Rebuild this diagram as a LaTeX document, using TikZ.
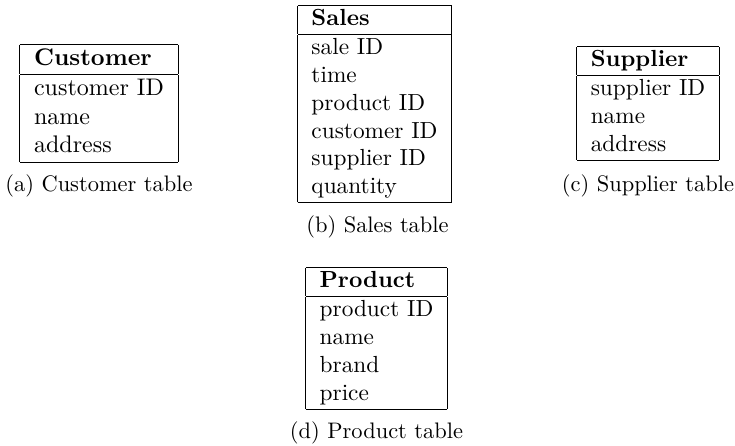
\documentclass[tikz,border=0pt]{standalone}
\begin{document}
\begin{tikzpicture}[x=0.4292pt,y=-0.4292pt,
  tbl/.style={inner sep=0pt,outer sep=0pt},
  captext/.style={inner sep=0pt,anchor=center,font=\fontsize{9.63pt}{11.5pt}\selectfont}]
\useasboundingbox (0,0) rectangle (735,445);
\node[tbl,scale=1.03,transform shape] (customer) at (99,103.5) {\begin{tabular}{|l|}\hline\textbf{Customer}\\\hline customer ID\\ name\\ address\\\hline\end{tabular}};
\node[tbl] (sales) at (374.5,104) {\begin{tabular}{|l|}\hline\textbf{Sales}\\\hline sale ID\\ time\\ product ID\\ customer ID\\ supplier ID\\ quantity\\\hline\end{tabular}};
\node[tbl] (supplier) at (648,103.5) {\begin{tabular}{|l|}\hline\textbf{Supplier}\\\hline supplier ID\\ name\\ address\\\hline\end{tabular}};
\node[tbl] (product) at (376.5,338.5) {\begin{tabular}{|l|}\hline\textbf{Product}\\\hline product ID\\ name\\ brand\\ price\\\hline\end{tabular}};
\node[captext] (capa) at (99,185.5) {(a) Customer table};
\node[captext] (capb) at (377.5,226.5) {(b) Sales table};
\node[captext] (capc) at (648,185.5) {(c) Supplier table};
\node[captext] (capd) at (376.5,432.5) {(d) Product table};
\end{tikzpicture}
\end{document}
